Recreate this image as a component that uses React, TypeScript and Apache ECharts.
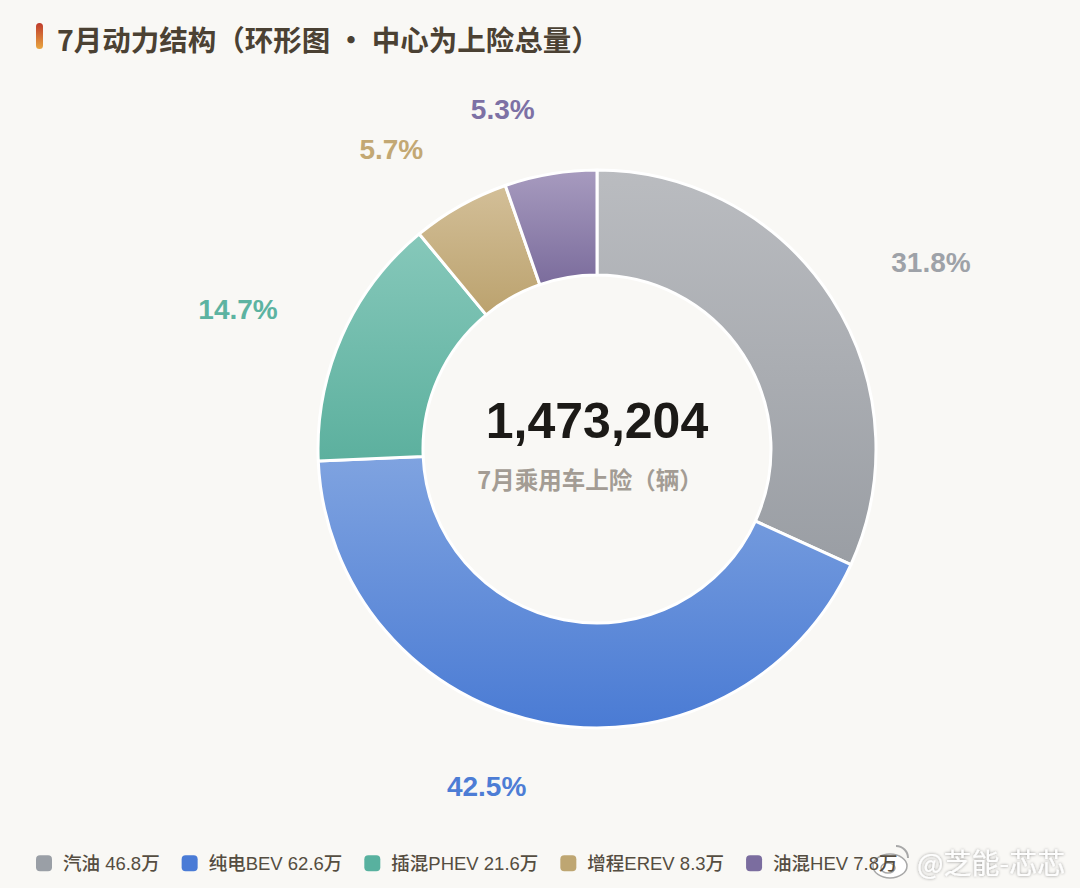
import React, { useEffect, useRef } from "react";
import * as echarts from "echarts";

const categories = ["汽油", "纯电BEV", "插混PHEV", "增程EREV", "油混HEV"];
const values = [468420, 626430, 216430, 83430, 78494];
const topColors = ["#babcc0", "#7fa3e0", "#86c8ba", "#d3bf98", "#a79bbf"];
const bottomColors = ["#9a9ea4", "#4a7bd4", "#5cb09e", "#bba26e", "#7b6c9c"];
const labelColors = ["#9ea2a8", "#4d7dd5", "#5cb3a1", "#c3a873", "#7d71a5"];
const legendColors = ["#9a9fa6", "#4a7bd6", "#58b19f", "#bea672", "#7b6d9f"];

const titleText = "7月动力结构（环形图 · 中心为上险总量）";
const centerSub = "7月乘用车上险（辆）";

const FONT = '"Liberation Sans", Arial, "Noto Sans CJK SC", sans-serif';
const CJK = '"Noto Sans CJK SC", sans-serif';

export default function App() {
  const ref = useRef<HTMLDivElement>(null);
  useEffect(() => {
    document.body.style.margin = "0";
    if (!ref.current) return;
    const chart = echarts.init(ref.current, null, { renderer: "svg" });
    const total = values.reduce((a, b) => a + b, 0);
    const data = categories.map((name, i) => ({
      name,
      value: values[i],
      itemStyle: {
        color: new echarts.graphic.LinearGradient(0, 0, 0, 1, [
          { offset: 0, color: topColors[i] },
          { offset: 1, color: bottomColors[i] },
        ]),
      },
      label: { color: labelColors[i] },
    }));
    chart.setOption({
      animation: false,
      backgroundColor: "#f9f8f5",
      legend: {
        left: 36,
        top: 854,
        padding: 0,
        itemWidth: 16,
        itemHeight: 16,
        itemGap: 22,
        icon: "roundRect",
        itemStyle: { borderWidth: 0 },
        data: categories.map((name, i) => ({
          name,
          itemStyle: { color: legendColors[i], borderWidth: 0 },
        })),
        formatter: (name: string) => {
          const i = categories.indexOf(name);
          return name + " " + (values[i] / 10000).toFixed(1) + "万";
        },
        textStyle: {
          fontFamily: FONT,
          fontSize: 18.5,
          fontWeight: 500,
          color: "#554d41",
          padding: [0, 0, 0, 6],
        },
      },
      graphic: [
        {
          type: "rect",
          shape: { x: 36, y: 23, width: 7, height: 26, r: 3.5 },
          style: {
            fill: new echarts.graphic.LinearGradient(0, 0, 0, 1, [
              { offset: 0, color: "#bf3b2c" },
              { offset: 1, color: "#e9a640" },
            ]),
          },
        },
        {
          type: "text",
          x: 57,
          y: 38,
          style: {
            text: titleText,
            fontFamily: CJK,
            fontSize: 28.5,
            fontWeight: "bold",
            fill: "#4b4133",
            textVerticalAlign: "middle",
          },
        },
        {
          type: "text",
          x: 597,
          y: 421,
          style: {
            text: total.toLocaleString("en-US"),
            fontFamily: FONT,
            fontSize: 50,
            fontWeight: "bold",
            fill: "#1c1a17",
            textAlign: "center",
            textVerticalAlign: "middle",
          },
        },
        {
          type: "text",
          x: 590,
          y: 479,
          style: {
            text: centerSub,
            fontFamily: CJK,
            fontSize: 23.5,
            fontWeight: "bold",
            fill: "#a39c94",
            textAlign: "center",
            textVerticalAlign: "middle",
          },
        },
        {
          type: "group",
          z: 100,
          children: [
            {
              type: "ellipse",
              shape: { cx: 890, cy: 866, rx: 17, ry: 12 },
              style: { fill: "rgba(255,255,255,0.92)", stroke: "#a8a8a8", lineWidth: 1.5 },
            },
            {
              type: "ellipse",
              shape: { cx: 888, cy: 868, rx: 7, ry: 5 },
              style: { fill: "none", stroke: "#a8a8a8", lineWidth: 1.5 },
            },
            {
              type: "arc",
              shape: { cx: 896, cy: 858, r: 12, startAngle: -Math.PI / 2, endAngle: 0 },
              style: { fill: "none", stroke: "#a8a8a8", lineWidth: 2 },
            },
            {
              type: "text",
              x: 917,
              y: 862,
              style: {
                text: "@芝能-芯芯",
                fontFamily: CJK,
                fontSize: 28,
                fill: "rgba(255,255,255,0.95)",
                textVerticalAlign: "middle",
                textShadowColor: "rgba(0,0,0,0.45)",
                textShadowBlur: 3,
              },
            },
          ],
        },
      ],
      series: [
        {
          type: "pie",
          center: [597, 449],
          radius: [174, 279],
          startAngle: 90,
          clockwise: true,
          avoidLabelOverlap: false,
          itemStyle: { borderColor: "#ffffff", borderWidth: 3 },
          label: {
            show: true,
            position: "outside",
            fontFamily: FONT,
            fontSize: 28,
            fontWeight: "bold",
            formatter: (p: any) => ((p.value / total) * 100).toFixed(1) + "%",
          },
          labelLine: { show: false, length: 65, length2: 0 },
          emphasis: { disabled: true },
          data,
        },
      ],
    });
    return () => chart.dispose();
  }, []);
  return <div ref={ref} style={{ width: 1080, height: 888 }} />;
}
